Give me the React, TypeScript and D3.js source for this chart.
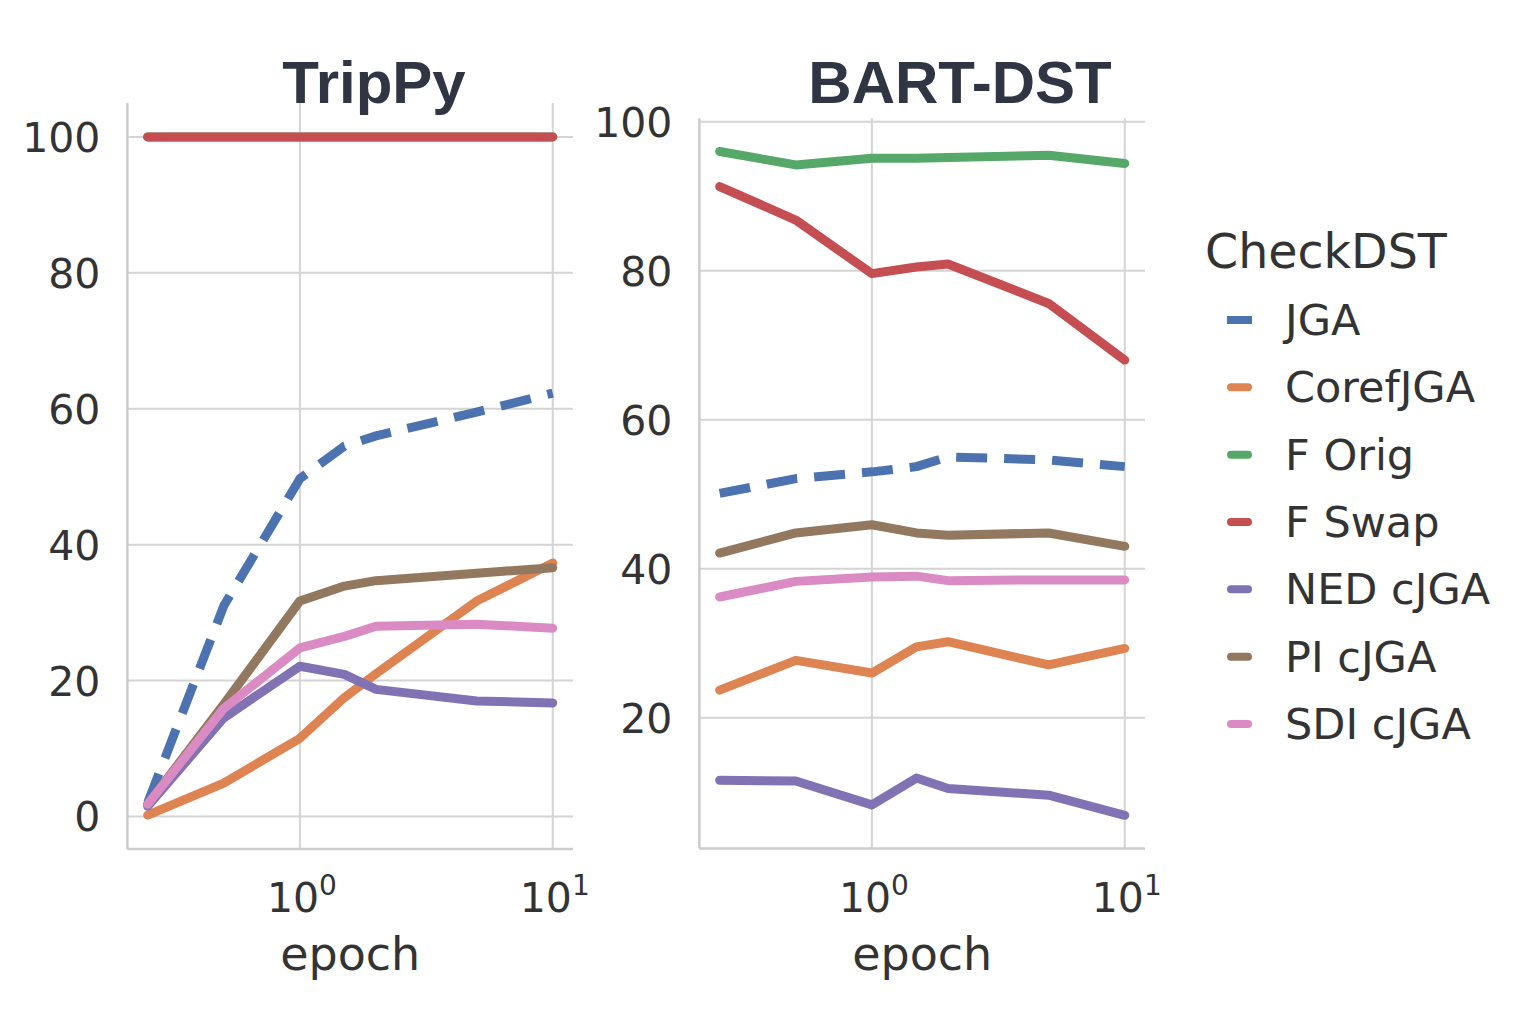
import React, { useEffect } from "react";
import * as d3 from "d3";

const epochs = [0.25, 0.5, 1, 1.5, 2, 5, 10];
const seriesNames = ["JGA", "CorefJGA", "F Orig", "F Swap", "NED cJGA", "PI cJGA", "SDI cJGA"];
const seriesColors = ["#4c72b0", "#dd8452", "#55a868", "#c44e52", "#8172b3", "#937860", "#da8bc3"];

const trippyJGA = [2.0, 31.0, 49.7, 54.5, 56.0, 59.5, 62.3];
const trippyCoref = [0.2, 4.9, 11.5, 17.5, 21.0, 31.7, 37.3];
const trippyFOrig = [100, 100, 100, 100, 100, 100, 100];
const trippyFSwap = [100, 100, 100, 100, 100, 100, 100];
const trippyNED = [1.5, 14.5, 22.1, 20.9, 18.7, 17.0, 16.7];
const trippyPI = [1.8, 16.5, 31.7, 33.9, 34.7, 35.8, 36.6];
const trippySDI = [1.8, 15.9, 24.8, 26.5, 28.0, 28.3, 27.7];

const bartJGA = [50.1, 52.1, 53.0, 53.7, 55.0, 54.6, 53.7];
const bartCoref = [23.7, 27.7, 26.0, 29.5, 30.2, 27.1, 29.3];
const bartFOrig = [96.0, 94.2, 95.1, 95.1, 95.2, 95.5, 94.4];
const bartFSwap = [91.3, 86.8, 79.6, 80.5, 80.9, 75.6, 68.0];
const bartNED = [11.6, 11.5, 8.3, 11.9, 10.5, 9.6, 6.9];
const bartPI = [42.1, 44.8, 45.9, 44.8, 44.5, 44.8, 43.0];
const bartSDI = [36.2, 38.3, 38.9, 39.0, 38.4, 38.5, 38.5];

const trippyTicks = [0, 20, 40, 60, 80, 100];
const bartTicks = [20, 40, 60, 80, 100];
const xTicks = [1, 10];
const xTickExp = ["0", "1"];

const FONT = "'DejaVu Sans', sans-serif";
const TEXT = "#333333";
const GRID = "#d4d4d4";

type PanelProps = {
  title: string;
  titleX: number;
  series: number[][];
  yTicks: number[];
  left: number;
  right: number;
  top: number;
  bottom: number;
};

function Panel({ title, titleX, series, yTicks, left, right, top, bottom }: PanelProps) {
  const lx0 = Math.log10(epochs[0]);
  const lx1 = Math.log10(epochs[epochs.length - 1]);
  const mx = (lx1 - lx0) * 0.05;
  const x = d3.scaleLog().domain([Math.pow(10, lx0 - mx), Math.pow(10, lx1 + mx)]).range([left, right]);
  const all = series.flat();
  const ymin = d3.min(all)!;
  const ymax = d3.max(all)!;
  const my = (ymax - ymin) * 0.05;
  const y = d3.scaleLinear().domain([ymin - my, ymax + my]).range([bottom, top]);
  const line = d3
    .line<number>()
    .x((_, i) => x(epochs[i]))
    .y((d) => y(d));

  return (
    <g>
      {yTicks.map((t) => (
        <line key={"gy" + t} x1={left} x2={right} y1={y(t)} y2={y(t)} stroke={GRID} strokeWidth={2} />
      ))}
      {xTicks.map((t) => (
        <line key={"gx" + t} x1={x(t)} x2={x(t)} y1={top} y2={bottom} stroke={GRID} strokeWidth={2} />
      ))}
      <line x1={left} x2={left} y1={top} y2={bottom} stroke="#cccccc" strokeWidth={2.5} />
      <line x1={left} x2={right} y1={bottom} y2={bottom} stroke="#cccccc" strokeWidth={2.5} />
      {series.map((s, i) => (
        <path
          key={"s" + i}
          d={line(s) || ""}
          fill="none"
          stroke={seriesColors[i]}
          strokeWidth={9}
          strokeLinecap={i === 0 ? "butt" : "round"}
          strokeLinejoin="round"
          strokeDasharray={i === 0 ? "31,17" : undefined}
        />
      ))}
      {yTicks.map((t) => (
        <text
          key={"ty" + t}
          x={left - 27}
          y={y(t) + 15}
          textAnchor="end"
          fontFamily={FONT}
          fontSize={41}
          fill={TEXT}
        >
          {t}
        </text>
      ))}
      {xTicks.map((t, i) => (
        <text
          key={"tx" + t}
          x={x(t) + 2}
          y={912}
          textAnchor="middle"
          fontFamily={FONT}
          fontSize={41}
          fill={TEXT}
        >
          <tspan>10</tspan>
          <tspan dy={-17} fontSize={28}>
            {xTickExp[i]}
          </tspan>
        </text>
      ))}
      <text
        x={(left + right) / 2}
        y={970}
        textAnchor="middle"
        fontFamily={FONT}
        fontSize={46}
        fill={TEXT}
      >
        epoch
      </text>
      <text
        x={titleX}
        y={103}
        textAnchor="middle"
        fontFamily="'Liberation Sans', Arial, sans-serif"
        fontWeight="bold"
        fontSize={60}
        fill="#2f3542"
      >
        {title}
      </text>
    </g>
  );
}

export default function App() {
  useEffect(() => {
    document.body.style.margin = "0";
  }, []);
  const trippy = [trippyJGA, trippyCoref, trippyFOrig, trippyFSwap, trippyNED, trippyPI, trippySDI];
  const bart = [bartJGA, bartCoref, bartFOrig, bartFSwap, bartNED, bartPI, bartSDI];
  const legendY = d3.scaleLinear().domain([0, 6]).range([320, 724]);
  return (
    <svg
      width={1526}
      height={1033}
      style={{ position: "absolute", left: 0, top: 0, background: "#ffffff" }}
    >
      <rect x={0} y={0} width={1526} height={1033} fill="#ffffff" />
      <Panel title="TripPy" titleX={374} series={trippy} yTicks={trippyTicks} left={127.4} right={573} top={103} bottom={849} />
      <Panel title="BART-DST" titleX={960} series={bart} yTicks={bartTicks} left={699.4} right={1145} top={118.3} bottom={848.5} />
      <g>
        <text x={1205} y={268} fontFamily={FONT} fontSize={47.5} fill={TEXT}>
          CheckDST
        </text>
        {seriesNames.map((n, i) => (
          <g key={n}>
            {i === 0 ? (
              <line x1={1227} x2={1252} y1={legendY(i)} y2={legendY(i)} stroke={seriesColors[i]} strokeWidth={8} strokeLinecap="butt" />
            ) : (
              <line x1={1231} x2={1248} y1={legendY(i)} y2={legendY(i)} stroke={seriesColors[i]} strokeWidth={8} strokeLinecap="round" />
            )}
            <text x={1285} y={legendY(i) + 15} fontFamily={FONT} fontSize={43} fill={TEXT}>
              {n}
            </text>
          </g>
        ))}
      </g>
    </svg>
  );
}
